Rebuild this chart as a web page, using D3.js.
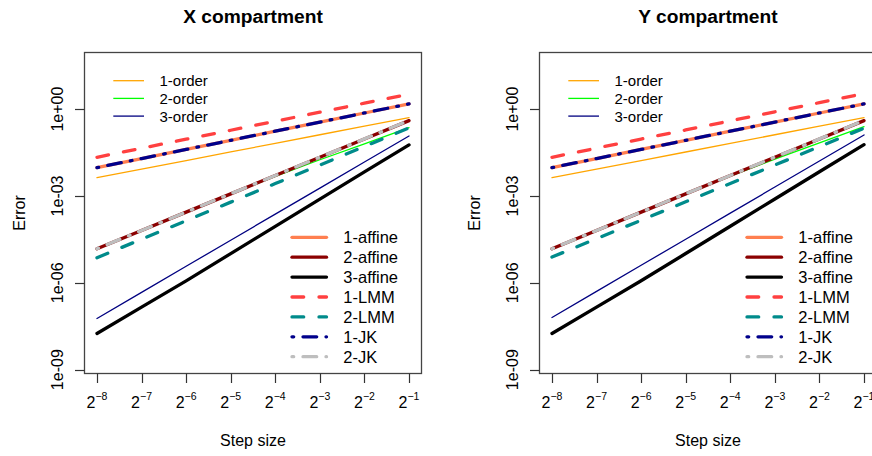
<!DOCTYPE html>
<html>
<head>
<meta charset="utf-8">
<script src="https://cdn.jsdelivr.net/npm/d3@7"></script>
<style>
  html, body { margin: 0; padding: 0; background: #fff; }
  svg { display: block; font-family: "Liberation Sans", Arial, sans-serif; }
</style>
</head>
<body>
<svg id="chart" width="872" height="456"></svg>
<script>
// Step sizes are 2^k for these exponents
const stepExponents = [-8, -7, -6, -5, -4, -3, -2, -1];
const panelTitles = ["X compartment", "Y compartment"];
const yTickValues = [1e0, 1e-3, 1e-6, 1e-9];
const yTickLabels = ["1e+00", "1e-03", "1e-06", "1e-09"];
const errorLimits = [1.9e-9, 35];

const seriesNames = ["1-order", "2-order", "3-order", "1-affine", "2-affine", "3-affine",
                     "1-LMM", "2-LMM", "1-JK", "2-JK"];
const topLegendNames = ["1-order", "2-order", "3-order"];
const bottomLegendNames = ["1-affine", "2-affine", "3-affine", "1-LMM", "2-LMM", "1-JK", "2-JK"];

// Errors, X compartment
const xOrder1  = [4.28e-3, 8.46e-3, 1.67e-2, 3.31e-2, 6.56e-2, 0.130, 0.257, 0.508];
const xOrder2  = [1.49e-5, 6.41e-5, 2.75e-4, 1.17e-3, 4.73e-3, 1.78e-2, 6.31e-2, 0.229];
const xOrder3  = [5.87e-8, 4.67e-7, 3.72e-6, 2.96e-5, 2.35e-4, 1.87e-3, 1.49e-2, 0.118];
const xAffine1 = [9.48e-3, 1.96e-2, 4.04e-2, 8.34e-2, 0.172, 0.355, 0.733, 1.51];
const xAffine2 = [1.50e-5, 6.43e-5, 2.76e-4, 1.18e-3, 5.07e-3, 2.18e-2, 9.33e-2, 0.400];
const xAffine3 = [1.78e-8, 1.45e-7, 1.17e-6, 1.02e-5, 8.91e-5, 7.76e-4, 6.76e-3, 5.78e-2];
const xLMM1    = [2.17e-2, 4.45e-2, 9.10e-2, 0.186, 0.381, 0.780, 1.60, 3.27];
const xLMM2    = [7.33e-6, 3.21e-5, 1.40e-4, 6.12e-4, 2.68e-3, 1.17e-2, 5.12e-2, 0.224];
const xJK1     = [9.50e-3, 1.96e-2, 4.05e-2, 8.35e-2, 0.172, 0.356, 0.734, 1.51];
const xJK2     = [1.50e-5, 6.44e-5, 2.77e-4, 1.19e-3, 5.09e-3, 2.19e-2, 9.37e-2, 0.402];

// Errors, Y compartment
const yOrder1  = [4.27e-3, 8.45e-3, 1.67e-2, 3.30e-2, 6.55e-2, 0.130, 0.257, 0.508];
const yOrder2  = [1.49e-5, 6.41e-5, 2.75e-4, 1.17e-3, 4.80e-3, 1.86e-2, 6.76e-2, 0.248];
const yOrder3  = [6.37e-8, 5.07e-7, 4.03e-6, 3.21e-5, 2.55e-4, 2.03e-3, 1.61e-2, 0.128];
const yAffine1 = [9.48e-3, 1.96e-2, 4.04e-2, 8.34e-2, 0.172, 0.355, 0.733, 1.51];
const yAffine2 = [1.50e-5, 6.43e-5, 2.76e-4, 1.18e-3, 5.07e-3, 2.18e-2, 9.33e-2, 0.400];
const yAffine3 = [1.78e-8, 1.45e-7, 1.18e-6, 1.03e-5, 9.00e-5, 7.85e-4, 6.85e-3, 5.92e-2];
const yLMM1    = [2.17e-2, 4.48e-2, 9.23e-2, 0.190, 0.392, 0.807, 1.67, 3.44];
const yLMM2    = [7.74e-6, 3.35e-5, 1.45e-4, 6.26e-4, 2.70e-3, 1.17e-2, 5.06e-2, 0.219];
const yJK1     = [9.50e-3, 1.96e-2, 4.05e-2, 8.35e-2, 0.172, 0.356, 0.734, 1.51];
const yJK2     = [1.50e-5, 6.44e-5, 2.77e-4, 1.19e-3, 5.09e-3, 2.19e-2, 9.37e-2, 0.402];

const panelSeries = [
  [xOrder1, xOrder2, xOrder3, xAffine1, xAffine2, xAffine3, xLMM1, xLMM2, xJK1, xJK2],
  [yOrder1, yOrder2, yOrder3, yAffine1, yAffine2, yAffine3, yLMM1, yLMM2, yJK1, yJK2]
];

// Line appearance per method
const thin = 1.3, thick = 3.3;
const dashed = "11.7,15.3", dotDash = "1.7,9.3,13.7,9.3";
const styles = {
  "1-order":  { color: "#FFA500", width: thin,  dash: null },
  "2-order":  { color: "#00FF00", width: thin,  dash: null },
  "3-order":  { color: "#000080", width: thin,  dash: null },
  "1-affine": { color: "#FF7F50", width: thick, dash: null },
  "2-affine": { color: "#8B0000", width: thick, dash: null },
  "3-affine": { color: "#000000", width: thick, dash: null },
  "1-LMM":    { color: "#FF4040", width: thick, dash: dashed },
  "2-LMM":    { color: "#008B8B", width: thick, dash: dashed },
  "1-JK":     { color: "#00008B", width: thick, dash: dotDash },
  "2-JK":     { color: "#BEBEBE", width: thick, dash: dotDash }
};

const svg = d3.select("#chart");
svg.append("rect").attr("width", 872).attr("height", 456).attr("fill", "#fff");

const panelWidth = 455;
const box = { left: 84.5, right: 421.5, top: 52.5, bottom: 373.5 };

// Axis extents padded by 4% the way R does it
const xLog = [stepExponents[0], stepExponents[stepExponents.length - 1]];
const xPad = 0.04 * (xLog[1] - xLog[0]);
const yLog = errorLimits.map(Math.log10);
const yPad = 0.04 * (yLog[1] - yLog[0]);

const x = d3.scaleLog().base(2)
  .domain([Math.pow(2, xLog[0] - xPad), Math.pow(2, xLog[1] + xPad)])
  .range([box.left, box.right]);
const y = d3.scaleLog()
  .domain([Math.pow(10, yLog[0] - yPad), Math.pow(10, yLog[1] + yPad)])
  .range([box.bottom, box.top]);

const line = d3.line().x(d => x(d[0])).y(d => y(d[1]));

function styled(sel, s) {
  sel.attr("fill", "none")
    .attr("stroke", s.color)
    .attr("stroke-width", s.width)
    .attr("stroke-linecap", "round")
    .attr("stroke-linejoin", "round");
  if (s.dash) sel.attr("stroke-dasharray", s.dash);
  return sel;
}

panelTitles.forEach((title, p) => {
  const g = svg.append("g").attr("transform", `translate(${p * panelWidth},0)`);
  const cx = (box.left + box.right) / 2;

  // series
  seriesNames.forEach((name, k) => {
    const pts = stepExponents.map((e, i) => [Math.pow(2, e), panelSeries[p][k][i]]);
    styled(g.append("path").attr("d", line(pts)), styles[name]);
  });

  // frame
  g.append("rect")
    .attr("x", box.left).attr("y", box.top)
    .attr("width", box.right - box.left).attr("height", box.bottom - box.top)
    .attr("fill", "none").attr("stroke", "#444").attr("stroke-width", 1.3);

  // x axis
  const xt = g.append("g");
  stepExponents.forEach(e => {
    const px = Math.round(x(Math.pow(2, e))) + 0.5;
    xt.append("line").attr("x1", px).attr("x2", px)
      .attr("y1", box.bottom).attr("y2", box.bottom + 9.5)
      .attr("stroke", "#333").attr("stroke-width", 1.2);
    const t = xt.append("text").attr("x", x(Math.pow(2, e))).attr("y", 408.3)
      .attr("text-anchor", "middle").attr("font-size", 16).attr("fill", "#000");
    t.append("tspan").text("2");
    t.append("tspan").attr("dy", -8).attr("font-size", 10.5).text("\u2212" + Math.abs(e));
  });

  // y axis
  yTickValues.forEach((v, i) => {
    const py = Math.round(y(v)) + 0.5;
    g.append("line").attr("x1", box.left - 9.5).attr("x2", box.left)
      .attr("y1", py).attr("y2", py)
      .attr("stroke", "#333").attr("stroke-width", 1.2);
    g.append("text").attr("transform", `translate(63,${y(v)}) rotate(-90)`)
      .attr("text-anchor", "middle").attr("font-size", 16).attr("fill", "#000")
      .text(yTickLabels[i]);
  });

  // titles
  g.append("text").attr("x", cx).attr("y", 23).attr("text-anchor", "middle")
    .attr("font-size", 19.2).attr("font-weight", "bold").text(title);
  g.append("text").attr("x", cx).attr("y", 446).attr("text-anchor", "middle")
    .attr("font-size", 16).text("Step size");
  g.append("text").attr("transform", `translate(25,${(box.top + box.bottom) / 2}) rotate(-90)`)
    .attr("text-anchor", "middle").attr("font-size", 16).text("Error");

  // legend, upper left
  topLegendNames.forEach((name, i) => {
    const ly = 80.7 + i * 17.7;
    styled(g.append("line").attr("x1", 113.3).attr("x2", 144).attr("y1", ly).attr("y2", ly), styles[name])
      .attr("stroke-linecap", "butt");
    g.append("text").attr("x", 159.5).attr("y", ly).attr("dy", "0.36em")
      .attr("font-size", 15).text(name);
  });

  // legend, lower right
  bottomLegendNames.forEach((name, i) => {
    const ly = 237.3 + i * 19.9;
    styled(g.append("line").attr("x1", 292).attr("x2", 326.5).attr("y1", ly).attr("y2", ly), styles[name]);
    g.append("text").attr("x", 343.3).attr("y", ly).attr("dy", "0.36em")
      .attr("font-size", 16.5).text(name);
  });
});
</script>
</body>
</html>
